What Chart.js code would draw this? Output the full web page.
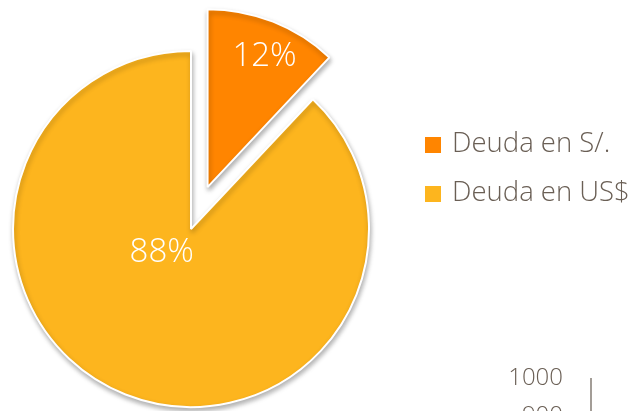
<!DOCTYPE html>
<html>
<head>
<meta charset="utf-8">
<script src="https://cdn.jsdelivr.net/npm/chart.js@4.4.1/dist/chart.umd.min.js"></script>
<style>
  html, body { margin: 0; padding: 0; background: #fff; }
  #wrap { position: relative; width: 636px; height: 411px; overflow: hidden; font-family: "Open Sans", sans-serif; }
  #pie { position: absolute; left: 0; top: 0; }
  .leg { position: absolute; left: 425px; font-size: 27.5px; font-weight: 300; color: #6a5f55; line-height: 1; white-space: nowrap; }
  .leg span { display: inline-block; width: 16px; height: 16px; margin-right: 11px; vertical-align: -1px; }
  .tick { position: absolute; font-size: 24px; font-weight: 300; color: #6a5f55; text-align: right; width: 80px; }
  #axisLine { position: absolute; left: 590px; top: 378px; width: 2px; height: 40px; background: #a39d97; }
</style>
</head>
<body>
<div id="wrap">
  <canvas id="pie" width="636" height="411"></canvas>
  <div id="legend"></div>
  <div class="tick" style="left:483px; top:359px;">1000</div>
  <div class="tick" style="left:483px; top:397px;">900</div>
  <div id="axisLine"></div>
</div>
<script>
var labels = ["Deuda en S/.", "Deuda en US$"];
var values = [12, 88];
var colors = ["#ff8500", "#fdb51e"];
var explode = [45, 0];          // desplazamiento del sector (px)
var labelRadius = [0.80, 0.21]; // posicion de la etiqueta (fraccion del radio)
var labelTurn = [2, 30];        // giro de la etiqueta (grados)

// leyenda en html
var legendHtml = "";
labels.forEach(function(l, i) {
	legendHtml += '<div class="leg" style="top:' + (128 + i * 49) + 'px"><span style="background:' + colors[i] + '"></span>' + l + '</div>';
});
document.getElementById("legend").innerHTML = legendHtml;

// mover el sector separado
var explodePlugin = {
	id: "explode",
	afterDatasetsUpdate: function(chart) {
		var meta = chart.getDatasetMeta(0);
		meta.data.forEach(function(arc, i) {
			var mid = (arc.startAngle + arc.endAngle) / 2;
			arc.x = arc.x + Math.cos(mid) * explode[i];
			arc.y = arc.y + Math.sin(mid) * explode[i];
		});
	}
};

// sombra suave
var shadowPlugin = {
	id: "shadow",
	beforeDatasetsDraw: function(chart) {
		var ctx = chart.ctx;
		ctx.save();
		ctx.shadowColor = "rgba(0,0,0,0.3)";
		ctx.shadowBlur = 5;
		ctx.shadowOffsetX = 1;
		ctx.shadowOffsetY = 3;
	},
	afterDatasetsDraw: function(chart) {
		chart.ctx.restore();
	}
};

// porcentajes
var pctPlugin = {
	id: "pct",
	afterDraw: function(chart) {
		var ctx = chart.ctx;
		var meta = chart.getDatasetMeta(0);
		var total = values.reduce(function(a, b) { return a + b; }, 0);
		ctx.save();
		ctx.fillStyle = "#fff";
		ctx.font = "300 33px 'Open Sans'";
		ctx.textAlign = "center";
		ctx.textBaseline = "middle";
		meta.data.forEach(function(arc, i) {
			var a = (arc.startAngle + arc.endAngle) / 2 + labelTurn[i] * Math.PI / 180;
			var r = arc.outerRadius * labelRadius[i];
			var txt = Math.round(values[i] / total * 100) + "%";
			ctx.fillText(txt, arc.x + Math.cos(a) * r, arc.y + Math.sin(a) * r);
		});
		ctx.restore();
	}
};

var chart = new Chart(document.getElementById("pie"), {
	type: "pie",
	data: {
		labels: labels,
		datasets: [{
			data: values,
			backgroundColor: colors,
			borderColor: "#ffffff",
			borderWidth: 2
		}]
	},
	options: {
		responsive: false,
		animation: false,
		radius: 178,
		layout: { padding: { left: 0, right: 254, top: 47, bottom: 0 } },
		plugins: {
			legend: { display: false },
			tooltip: { enabled: false }
		}
	},
	plugins: [explodePlugin, shadowPlugin, pctPlugin]
});
</script>
</body>
</html>
